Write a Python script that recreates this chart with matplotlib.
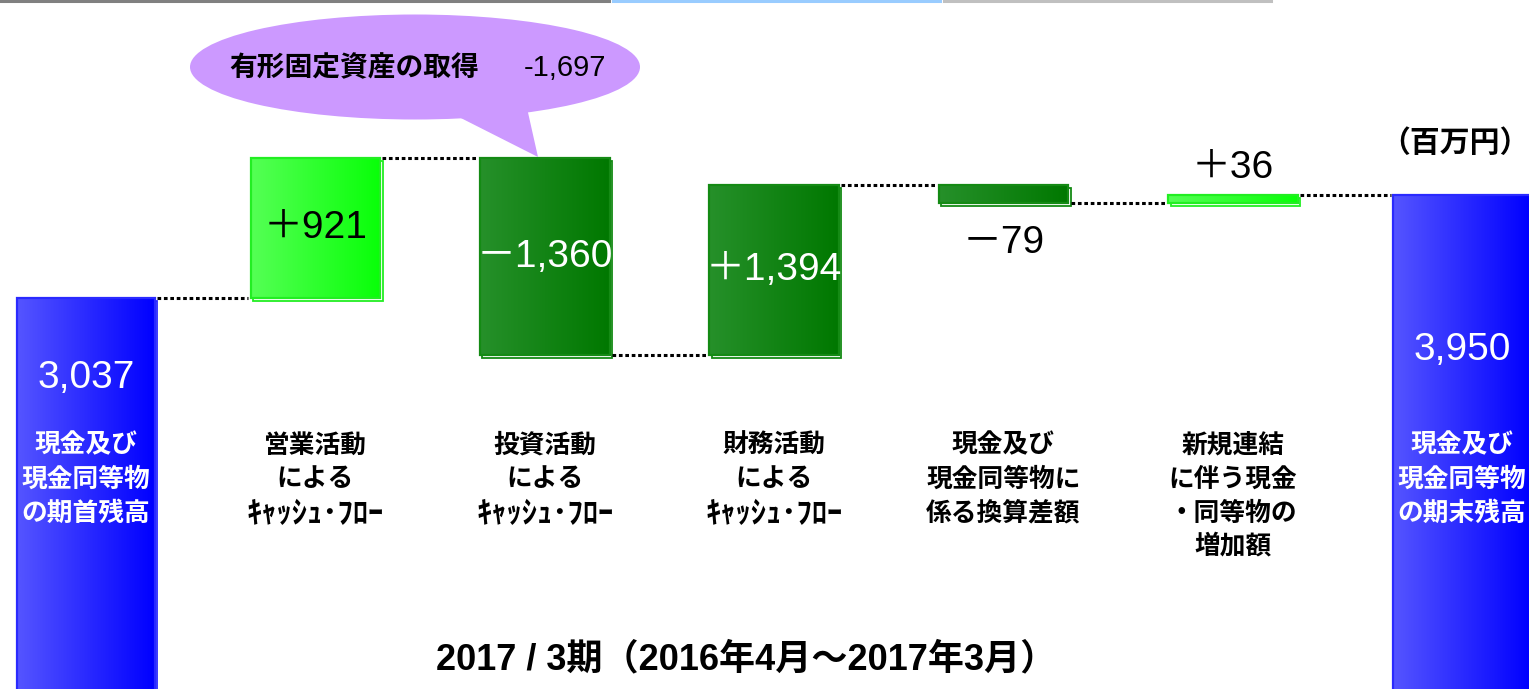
import numpy as np
import matplotlib.pyplot as plt
from matplotlib.patches import Rectangle, Ellipse, Polygon
from matplotlib.colors import LinearSegmentedColormap
from matplotlib.lines import Line2D

plt.rcParams['font.family'] = ['Liberation Sans', 'Noto Sans CJK JP', 'DejaVu Sans']

W, H = 1529, 689

# ---- values printed on the chart (million yen) ----
start_label = '3,037'
end_label = '3,950'
step_labels = ['＋921', '－1,360', '＋1,394', '－79', '＋36']
step_label_pos = ['in', 'in', 'in', 'below', 'above']
step_label_color = ['black', 'white', 'white', 'black', 'black']

# the slide is not drawn to scale, so the bars use the levels as drawn (chart units)
start_level = 391
step_deltas = [140, -197, 170, -18, 8]
step_kind = ['light', 'dark', 'dark', 'dark', 'light']

start_cat = ['現金及び', '現金同等物', 'の期首残高']
end_cat = ['現金及び', '現金同等物', 'の期末残高']
cf = 'ｷｬｯｼｭ･ﾌﾛｰ'
step_cats = [
    ['営業活動', 'による', cf],
    ['投資活動', 'による', cf],
    ['財務活動', 'による', cf],
    ['現金及び', '現金同等物に', '係る換算差額'],
    ['新規連結', 'に伴う現金', '・同等物の', '増加額'],
]

callout_text = '有形固定資産の取得'
callout_value = '-1,697'
unit_text = '（百万円）'
period_text = '2017 / 3期（2016年4月～2017年3月）'

colors = {
    'blue': ('#5555ff', '#0000ff', '#2a2aff'),
    'light': ('#55ff55', '#08ff08', '#22ee22'),
    'dark': ('#26902a', '#007800', '#148a14'),
}

# ---- figure ----
fig = plt.figure(figsize=(W / 100, H / 100), dpi=100)
ax = fig.add_axes([0, 0, 1, 1])
ax.set_axis_off()

step = 229.36  # px per category
x0px = 86
xmin, xmax = -x0px / step, (W - x0px) / step


def px(x, y):
    # pixel position -> axes fraction (for decorations)
    return x / W, 1 - y / H


def grad_bar(xc, width, y0, y1, kind):
    c_left, c_right, edge = colors[kind]
    cmap = LinearSegmentedColormap.from_list(kind, [c_left, c_right])
    xa, xb = xc - width / 2, xc + width / 2
    lo, hi = min(y0, y1), max(y0, y1)
    dx = 2.5 / step
    ax.add_patch(Rectangle((xa + dx, lo - 2.5), width, hi - lo, fc='white',
                           ec=edge, lw=1.3, zorder=2))
    ax.imshow(np.linspace(0, 1, 256)[None, :], cmap=cmap, aspect='auto',
              extent=(xa, xb, lo, hi), zorder=3, interpolation='bilinear')
    ax.add_patch(Rectangle((xa, lo), width, hi - lo, fill=False,
                           ec=edge, lw=1.6, zorder=4))
    return xa, xb


bw = 0.565
bw_end = 0.60
base = -40

levels = [start_level]
for d in step_deltas:
    levels.append(levels[-1] + d)
end_level = levels[-1]

edges = []
edges.append(grad_bar(0, bw_end, base, start_level, 'blue'))
for i, d in enumerate(step_deltas):
    edges.append(grad_bar(i + 1, bw, levels[i], levels[i + 1], step_kind[i]))
n = len(step_deltas) + 1
edges.append(grad_bar(n, bw_end, base, end_level, 'blue'))

# dotted connectors
for i in range(n):
    ax.plot([edges[i][1] + 0.01, edges[i + 1][0] - 0.01], [levels[i], levels[i]],
            color='black', lw=2.2, ls=(0, (1.2, 0.9)), zorder=5)

# value labels
ax.text(0, 311, start_label, color='white', fontsize=28, ha='center', va='center', zorder=6)
ax.text(n, 339, end_label, color='white', fontsize=28, ha='center', va='center', zorder=6)
for i, lab in enumerate(step_labels):
    lo, hi = sorted([levels[i], levels[i + 1]])
    if step_label_pos[i] == 'in':
        y = (lo + hi) / 2
    elif step_label_pos[i] == 'below':
        y = lo - 40
    else:
        y = hi + 27
    ax.text(i + 1, y, lab, color=step_label_color[i], fontsize=28,
            ha='center', va='center', zorder=6)

# category labels
line_y = [244, 210, 176, 143]
jp = ['Noto Sans CJK JP', 'DejaVu Sans']
for k, line in enumerate(start_cat):
    ax.text(0, line_y[k], line, color='white', fontsize=18.5, fontweight='bold',
            family=jp, ha='center', va='center', zorder=6)
for k, line in enumerate(end_cat):
    ax.text(n, line_y[k], line, color='white', fontsize=18.5, fontweight='bold',
            family=jp, ha='center', va='center', zorder=6)
for i, cat in enumerate(step_cats):
    for k, line in enumerate(cat):
        small = line == cf
        ax.text(i + 1, line_y[k] - (1 if small else 0), line, color='black',
                fontsize=22 if small else 18.5, fontweight='bold',
                family=jp, ha='center', va='center', zorder=6)

# unit and period
ax.text(*px(1455, 143), unit_text, transform=ax.transAxes, fontsize=21.5,
        fontweight='bold', family=jp, ha='center', va='center')
ax.text(*px(746, 660), period_text, transform=ax.transAxes, fontsize=26,
        fontweight='bold', ha='center', va='center')

# speech-bubble callout
bubble = '#cc99ff'
ax.add_patch(Ellipse(px(415, 67), 450 / W, 105 / H, transform=ax.transAxes,
                     fc=bubble, ec='none', zorder=7))
ax.add_patch(Polygon([px(445, 110), px(527, 108), px(538, 157)], closed=True,
                     transform=ax.transAxes, fc=bubble, ec='none', zorder=7))
ax.text(*px(354, 68), callout_text, transform=ax.transAxes, fontsize=20,
        fontweight='bold', family=jp, ha='center', va='center', zorder=8)
ax.text(*px(565, 68), callout_value, transform=ax.transAxes, fontsize=21,
        ha='center', va='center', zorder=8)

# thin rules at the very top of the slide
for (xa, xb), c in zip([(0, 609), (613, 940), (944, 1271)], ['#808080', '#99ccff', '#c0c0c0']):
    fig.add_artist(Line2D([xa / W, xb / W], [1 - 1 / H, 1 - 1 / H], color=c, lw=2.2,
                          transform=fig.transFigure))

ax.set_xlim(xmin, xmax)
ax.set_ylim(0, H)

fig.savefig('out.png', dpi=100, facecolor='white')
